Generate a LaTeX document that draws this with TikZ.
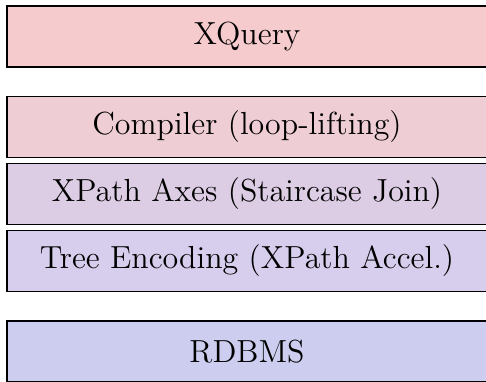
\documentclass[tikz,border=0pt]{standalone}
\definecolor{cA}{RGB}{246,203,205}
\definecolor{cB}{RGB}{239,205,213}
\definecolor{cC}{RGB}{220,205,228}
\definecolor{cD}{RGB}{214,206,236}
\definecolor{cE}{RGB}{205,205,240}
\begin{document}
\begin{tikzpicture}[x=0.3758pt,y=-0.3758pt,
  layer/.style={draw=black, line width=0.56pt, minimum width=180.4pt, minimum height=22.9pt, inner sep=0pt, font=\fontsize{12}{14}\selectfont}]
\useasboundingbox (0,0) rectangle (486,381);
\node[layer, fill=cA] (xq) at (247,36.5) {XQuery};
\node[layer, fill=cB] (comp) at (247,127) {Compiler (loop-lifting)};
\node[layer, fill=cC] (axes) at (247,194) {XPath Axes (Staircase Join)};
\node[layer, fill=cD] (enc) at (247,261) {Tree Encoding (XPath Accel.)};
\node[layer, fill=cE] (db) at (247,351.5) {RDBMS};
\end{tikzpicture}
\end{document}
